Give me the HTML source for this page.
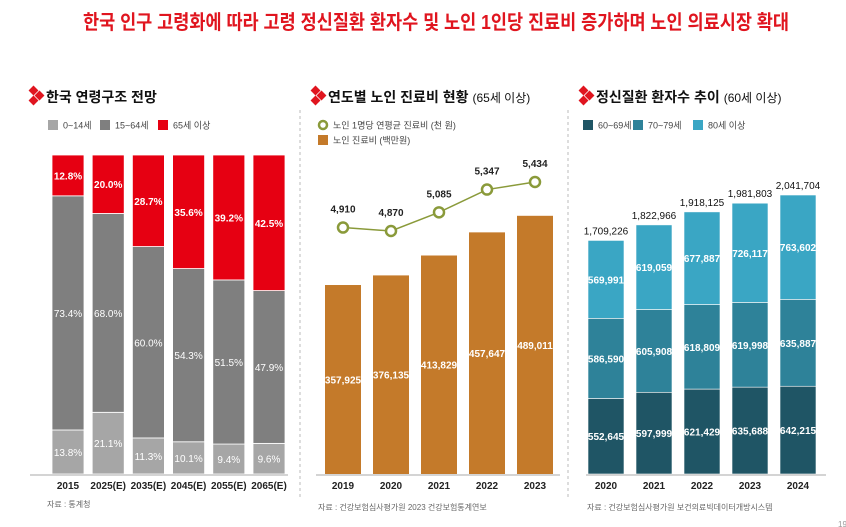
<!DOCTYPE html>
<html><head><meta charset="utf-8">
<style>
body{margin:0;background:#fff;width:846px;height:527px;overflow:hidden;font-family:"Liberation Sans","Noto Sans CJK KR",sans-serif}
svg{display:block}
text{font-family:"Liberation Sans","Noto Sans CJK KR",sans-serif}
</style></head><body>
<svg id="s" width="846" height="527" viewBox="0 0 846 527" xmlns="http://www.w3.org/2000/svg">
<text x="436" y="29" text-anchor="middle" font-size="20" font-weight="bold" fill="#e0151f" textLength="706" lengthAdjust="spacingAndGlyphs">한국 인구 고령화에 따라 고령 정신질환 환자수 및 노인 1인당 진료비 증가하며 노인 의료시장 확대</text>
<line x1="300" y1="110" x2="300" y2="500" stroke="#bbb" stroke-dasharray="3,3"/>
<line x1="568" y1="110" x2="568" y2="500" stroke="#bbb" stroke-dasharray="3,3"/>
<g id="g1"></g>
<g id="g2"></g>
<g id="g3"></g>
<text x="838" y="527" font-size="8" fill="#999">19</text>
</svg>
<script>
// chart 1 data
const years1=["2015","2025(E)","2035(E)","2045(E)","2055(E)","2065(E)"];
const young=[13.8,21.1,11.3,10.1,9.4,9.6];
const working=[73.4,68.0,60.0,54.3,51.5,47.9];
const old=[12.8,20.0,28.7,35.6,39.2,42.5];
// chart 2 data
const years2=["2019","2020","2021","2022","2023"];
const costTotal=[357925,376135,413829,457647,489011];
const costPer=[4910,4870,5085,5347,5434];
const costPerLabels=["4,910","4,870","5,085","5,347","5,434"];
// chart 3 data
const years3=["2020","2021","2022","2023","2024"];
const p60=[552645,597999,621429,635688,642215];
const p70=[586590,605908,618809,619998,635887];
const p80=[569991,619059,677887,726117,763602];

const NS="http://www.w3.org/2000/svg";
function mk(p,tag,a,txt){const e=document.createElementNS(NS,tag);for(const k in a)e.setAttribute(k,a[k]);if(txt!==undefined)e.textContent=txt;p.appendChild(e);return e;}
const fmt=v=>v.toLocaleString('en-US');
function header(g,x,title,sub){
  const d=mk(g,'g',{});
  
  
  mk(d,'rect',{x:x,y:87,width:7,height:7,fill:'#e0151f',transform:`rotate(45 ${x+3.5} 90.5)`});
  mk(d,'rect',{x:x+6,y:92,width:7,height:7,fill:'#e0151f',transform:`rotate(45 ${x+9.5} 95.5)`});
  mk(d,'rect',{x:x,y:97,width:7,height:7,fill:'#e0151f',transform:`rotate(45 ${x+3.5} 100.5)`});
  const t=mk(g,'text',{x:x+16,y:102,'font-size':14,'font-weight':'bold',fill:'#111'});
  
  
  mk(t,'tspan',{},title);
  if(sub)mk(t,'tspan',{'font-size':12,'font-weight':'normal',dx:4},sub);
}
function legend(g,x,y,color,label,circle){
  const l=mk(g,'g',{});
  
  
  if(circle)mk(l,'circle',{cx:x+5,cy:y,r:4,fill:'#fff',stroke:'#8a9a3a','stroke-width':2.5});
  else mk(l,'rect',{x:x,y:y-5,width:10,height:10,fill:color});
  mk(l,'text',{x:x+15,y:y+3.5,'font-size':9,fill:'#444'},label);
}
const base=474;
// Chart 1
(function(){
  const g=document.getElementById('g1');
  header(g,30,'한국 연령구조 전망');
  legend(g,48,125,'#a6a6a6','0~14세');legend(g,100,125,'#7f7f7f','15~64세');legend(g,158,125,'#e60012','65세 이상');
  const top=155,H=base-top;
  const cx=i=>68+i*40.2;
  const y=v=>H*v/100;
  mk(g,'line',{x1:30,y1:base+1,x2:288,y2:base+1,stroke:'#aaa'});
  years1.forEach((yr,i)=>{
    const tot=young[i]+working[i]+old[i];
    const segs=[[young[i],'#a6a6a6'],[working[i],'#7f7f7f'],[old[i],'#e60012']];
    let yy=base;
    segs.forEach(([v,c],k)=>{
      const h=H*v/tot;
      const r=mk(g,'rect',{x:cx(i)-16,y:yy-h,width:32,height:h,fill:c,stroke:'#fff','stroke-width':0.8});
      
      
      mk(g,'text',{x:cx(i),y:yy-h/2+4,'font-size':10,'font-weight':k==2?'bold':'normal',fill:'#fff','text-anchor':'middle'},v.toFixed(1)+'%');
      yy-=h;
    });
    const t=mk(g,'text',{x:cx(i),y:489,'font-size':10,'font-weight':'bold',fill:'#222','text-anchor':'middle'},yr);
    
    
  });
  const s=mk(g,'text',{x:47,y:507,'font-size':8,fill:'#666'},'자료 : 통계청');
  
  
})();
// Chart 2
(function(){
  const g=document.getElementById('g2');
  header(g,312,'연도별 노인 진료비 현황','(65세 이상)');
  legend(g,318,125,null,'노인 1명당 연평균 진료비 (천 원)',true);
  legend(g,318,140,'#c47a2a','노인 진료비 (백만원)');
  const cx=i=>343+i*48;
  const yb=v=>v*0.000528;
  const yl=v=>231-(v-4870)*0.0869;
  mk(g,'line',{x1:316,y1:base+1,x2:560,y2:base+1,stroke:'#aaa'});
  years2.forEach((yr,i)=>{
    const h=yb(costTotal[i]);
    const r=mk(g,'rect',{x:cx(i)-18,y:base-h,width:36,height:h,fill:'#c47a2a'});
    
    
    mk(g,'text',{x:cx(i),y:base-h/2+4,'font-size':10,'font-weight':'bold',fill:'#fff','text-anchor':'middle'},fmt(costTotal[i]));
    const t=mk(g,'text',{x:cx(i),y:489,'font-size':10,'font-weight':'bold',fill:'#222','text-anchor':'middle'},yr);
    
    
  });
  const pts=costPer.map((v,i)=>cx(i)+','+yl(v)).join(' ');
  const pl=mk(g,'polyline',{points:pts,fill:'none',stroke:'#8a9a3a','stroke-width':1.5});
  
  
  costPer.forEach((v,i)=>{
    const c=mk(g,'circle',{cx:cx(i),cy:yl(v),r:5,fill:'#fff',stroke:'#8a9a3a','stroke-width':2.5});
    
    
    mk(g,'text',{x:cx(i),y:yl(v)-15,'font-size':10,'font-weight':'bold',fill:'#222','text-anchor':'middle'},costPerLabels[i]);
  });
  const s=mk(g,'text',{x:318,y:510,'font-size':8,fill:'#666'},'자료 : 건강보험심사평가원 2023 건강보험통계연보');
  
  
})();
// Chart 3
(function(){
  const g=document.getElementById('g3');
  header(g,580,'정신질환 환자수 추이','(60세 이상)');
  legend(g,583,125,'#1f5565','60~69세');legend(g,633,125,'#2e8299','70~79세');legend(g,693,125,'#3aa6c4','80세 이상');
  const cx=i=>606+i*48;
  const yv=v=>v*1.3665e-4;
  mk(g,'line',{x1:586,y1:base+1,x2:826,y2:base+1,stroke:'#aaa'});
  years3.forEach((yr,i)=>{
    const segs=[[p60[i],'#1f5565'],[p70[i],'#2e8299'],[p80[i],'#3aa6c4']];
    let yy=base;
    segs.forEach(([v,c],k)=>{
      const h=yv(v);
      const r=mk(g,'rect',{x:cx(i)-18,y:yy-h,width:36,height:h,fill:c,stroke:'#fff','stroke-width':0.6});
      
      
      mk(g,'text',{x:cx(i),y:yy-h/2+4,'font-size':10,'font-weight':'bold',fill:'#fff','text-anchor':'middle'},fmt(v));
      yy-=h;
    });
    mk(g,'text',{x:cx(i),y:yy-6,'font-size':10,fill:'#111','text-anchor':'middle'},fmt(p60[i]+p70[i]+p80[i]));
    const t=mk(g,'text',{x:cx(i),y:489,'font-size':10,'font-weight':'bold',fill:'#222','text-anchor':'middle'},yr);
    
    
  });
  const s=mk(g,'text',{x:587,y:510,'font-size':8,fill:'#666'},'자료 : 건강보험심사평가원 보건의료빅데이터개방시스템');
  
  
})();
</script>
</body></html>
